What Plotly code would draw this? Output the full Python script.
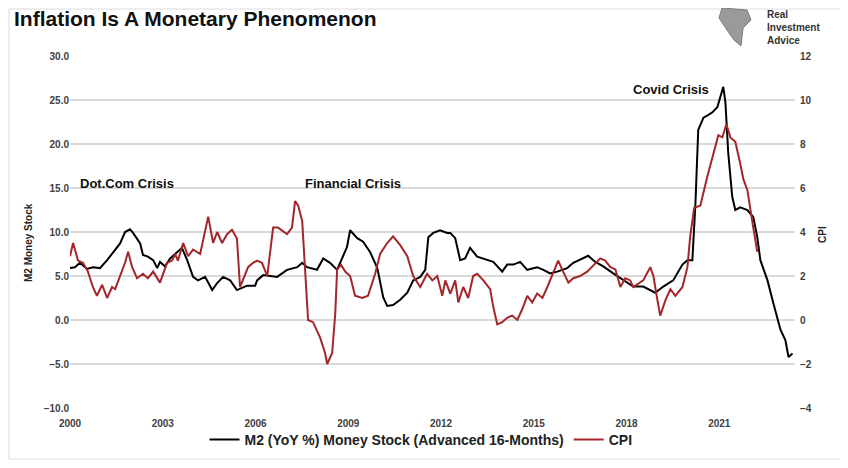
import plotly.graph_objects as go

# ---- data (decimal years) ----
m2_years = [2000.00, 2000.16, 2000.32, 2000.55, 2000.74, 2000.97, 2001.20, 2001.39, 2001.62, 2001.78,
            2001.94, 2002.04, 2002.27, 2002.36, 2002.52, 2002.69, 2002.82, 2002.91, 2003.07, 2003.24,
            2003.46, 2003.62, 2003.79, 2003.98, 2004.14, 2004.37, 2004.60, 2004.76, 2004.95, 2005.18,
            2005.40, 2005.73, 2005.99, 2006.05, 2006.25, 2006.70, 2007.02, 2007.35, 2007.51, 2007.67,
            2007.99, 2008.19, 2008.41, 2008.64, 2008.80, 2008.96, 2009.06, 2009.29, 2009.48, 2009.71,
            2009.94, 2010.13, 2010.26, 2010.45, 2010.68, 2010.91, 2011.10, 2011.33, 2011.49, 2011.59,
            2011.75, 2011.97, 2012.20, 2012.30, 2012.46, 2012.62, 2012.78, 2012.94, 2013.17, 2013.37,
            2013.69, 2013.98, 2014.14, 2014.34, 2014.56, 2014.79, 2015.11, 2015.31, 2015.53, 2015.76,
            2016.08, 2016.28, 2016.50, 2016.76, 2016.99, 2017.25, 2017.57, 2017.90, 2018.22, 2018.54,
            2018.93, 2019.19, 2019.51, 2019.81, 2019.97, 2020.13, 2020.23, 2020.32, 2020.49, 2020.65,
            2020.78, 2020.94, 2021.13, 2021.20, 2021.29, 2021.42, 2021.52, 2021.68, 2021.91, 2022.10,
            2022.23, 2022.33, 2022.56, 2022.75, 2022.98, 2023.14, 2023.24, 2023.37]
m2_values = [5.9, 6.0, 6.5, 5.8, 6.0, 5.9, 6.8, 7.6, 8.7, 10.0,
             10.3, 9.9, 8.7, 7.4, 7.2, 6.8, 5.9, 6.6, 6.1, 7.0,
             7.7, 8.2, 6.8, 4.9, 4.5, 4.9, 3.4, 4.2, 4.9, 4.5,
             3.4, 3.9, 3.9, 4.5, 5.1, 4.9, 5.7, 6.0, 6.5, 6.0,
             5.7, 7.0, 6.5, 5.7, 7.0, 8.3, 10.2, 9.3, 8.9, 7.7,
             5.9, 2.6, 1.6, 1.7, 2.3, 3.1, 4.5, 4.9, 5.7, 9.4,
             9.9, 10.2, 9.9, 9.9, 9.3, 6.8, 7.0, 8.2, 7.2, 7.0,
             6.6, 5.5, 6.3, 6.3, 6.6, 5.7, 6.0, 5.7, 5.3, 5.5,
             5.9, 6.5, 6.9, 7.3, 6.6, 6.1, 5.3, 4.5, 3.8, 3.8,
             3.1, 3.8, 4.5, 6.3, 6.8, 6.8, 13.3, 21.6, 23.0, 23.3,
             23.6, 24.2, 26.5, 24.7, 19.0, 14.0, 12.5, 12.8, 12.5, 11.7,
             9.4, 6.8, 4.5, 1.9, -1.1, -2.3, -4.2, -3.8]

cpi_years = [2000.00, 2000.10, 2000.26, 2000.42, 2000.58, 2000.74, 2000.87, 2001.04, 2001.20, 2001.36,
             2001.46, 2001.62, 2001.78, 2001.88, 2002.01, 2002.17, 2002.36, 2002.52, 2002.69, 2002.91,
             2003.14, 2003.30, 2003.40, 2003.49, 2003.66, 2003.82, 2003.98, 2004.21, 2004.47, 2004.63,
             2004.76, 2004.92, 2005.08, 2005.24, 2005.40, 2005.50, 2005.66, 2005.76, 2005.92, 2006.05,
             2006.21, 2006.38, 2006.57, 2006.73, 2007.02, 2007.18, 2007.28, 2007.38, 2007.51, 2007.61,
             2007.70, 2007.86, 2008.09, 2008.25, 2008.32, 2008.48, 2008.58, 2008.64, 2008.77, 2008.90,
             2009.06, 2009.22, 2009.45, 2009.64, 2009.87, 2010.03, 2010.26, 2010.45, 2010.68, 2010.91,
             2011.10, 2011.33, 2011.55, 2011.72, 2011.88, 2012.04, 2012.14, 2012.30, 2012.46, 2012.56,
             2012.72, 2012.88, 2013.04, 2013.17, 2013.37, 2013.59, 2013.69, 2013.82, 2013.98, 2014.14,
             2014.30, 2014.47, 2014.63, 2014.79, 2014.95, 2015.11, 2015.28, 2015.44, 2015.63, 2015.79,
             2015.95, 2016.12, 2016.28, 2016.50, 2016.73, 2016.93, 2017.15, 2017.31, 2017.48, 2017.64,
             2017.80, 2017.96, 2018.12, 2018.22, 2018.54, 2018.77, 2018.87, 2019.00, 2019.09, 2019.26,
             2019.42, 2019.58, 2019.81, 2019.97, 2020.06, 2020.19, 2020.39, 2020.61, 2020.81, 2020.97,
             2021.10, 2021.23, 2021.36, 2021.52, 2021.68, 2021.78, 2021.91, 2022.01, 2022.10, 2022.23]
cpi_values = [2.9, 3.5, 2.7, 2.6, 2.2, 1.5, 1.1, 1.6, 1.0, 1.5,
              1.4, 2.0, 2.6, 3.1, 2.4, 1.9, 2.1, 1.9, 2.2, 1.7,
              2.6, 2.7, 3.0, 2.7, 3.5, 2.9, 3.2, 3.0, 4.7, 3.5,
              4.0, 3.5, 3.9, 4.1, 3.7, 1.5, 2.1, 2.4, 2.6, 2.7,
              2.6, 2.0, 4.2, 4.2, 3.9, 4.2, 5.4, 5.2, 4.5, 2.3,
              0.0, -0.1, -0.8, -1.5, -2.0, -1.5, 0.3, 2.3, 2.5, 2.2,
              2.0, 1.1, 1.0, 1.1, 2.1, 3.0, 3.5, 3.8, 3.4, 2.9,
              2.0, 1.5, 2.1, 1.8, 2.0, 1.1, 1.8, 1.2, 1.8, 0.8,
              1.5, 1.0, 2.0, 2.1, 1.8, 1.4, 0.6, -0.2, -0.1, 0.1,
              0.2, 0.0, 0.5, 1.1, 0.8, 1.2, 1.0, 1.5, 2.2, 2.7,
              2.2, 1.7, 1.9, 2.0, 2.2, 2.5, 2.8, 2.7, 2.4, 2.3,
              1.5, 1.9, 1.8, 1.5, 1.8, 2.4, 2.0, 0.9, 0.2, 0.9,
              1.4, 1.1, 1.5, 2.4, 3.8, 5.1, 5.2, 6.5, 7.6, 8.4,
              8.3, 8.9, 8.3, 8.1, 7.1, 6.4, 5.9, 4.9, 4.2, 3.1]

x_tick_vals = [2000, 2003, 2006, 2009, 2012, 2015, 2018, 2021]
x_tick_text = ["2000", "2003", "2006", "2009", "2012", "2015", "2018", "2021"]
left_ticks = [-10, -5, 0, 5, 10, 15, 20, 25, 30]
right_ticks = [-4, -2, 0, 2, 4, 6, 8, 10, 12]

m2_name = "M2 (YoY %) Money Stock (Advanced 16-Months)"
cpi_name = "CPI"

SANS = "Liberation Sans, Arial, sans-serif"

fig = go.Figure()
fig.add_trace(go.Scatter(x=m2_years, y=m2_values, name=m2_name, mode="lines",
                         line=dict(color="#000000", width=2), yaxis="y"))
fig.add_trace(go.Scatter(x=cpi_years, y=cpi_values, name=cpi_name, mode="lines",
                         line=dict(color="#a3262a", width=2), yaxis="y2"))

# page has an 8px body margin: the figure starts at (8, 8) of the screenshot
OFF = 8
W, H = 848 - OFF, 468 - OFF
# plot area, in screenshot pixels
L, R, T, B = 70, 795, 56, 408
pw, ph = R - L, B - T

def px(xp):
    return (xp - L) / pw

def py(yp):
    return (B - yp) / ph

tickfont = dict(family=SANS, size=10, color="#404040", weight="bold")

fig.update_layout(
    width=W, height=H,
    margin=dict(l=L - OFF, r=W - (R - OFF), t=T - OFF, b=H - (B - OFF), autoexpand=False),
    paper_bgcolor="white", plot_bgcolor="rgba(0,0,0,0)",
    showlegend=True,
    legend=dict(orientation="h", x=px(421), xanchor="center", y=py(440), yanchor="middle",
                font=dict(family=SANS, size=14, color="#222222", weight="bold"),
                itemwidth=30, tracegroupgap=0, bgcolor="rgba(0,0,0,0)"),
    xaxis=dict(range=[2000, 2023.45], tickvals=x_tick_vals, ticktext=x_tick_text,
               showgrid=False, zeroline=False, showline=False, ticks="", automargin=False,
               ticklabelstandoff=8, tickfont=tickfont),
    yaxis=dict(range=[-10, 30], tickvals=left_ticks, tickformat=".1f",
               showgrid=True, gridcolor="#dadada", gridwidth=2, zeroline=False,
               showline=False, ticks="", automargin=False, tickfont=tickfont),
    yaxis2=dict(range=[-4, 12], tickvals=right_ticks, overlaying="y", side="right",
                showgrid=False, zeroline=False, showline=False, ticks="", automargin=False,
                ticklabelstandoff=4, tickfont=tickfont),
)

annotations = [
    dict(text="Inflation Is A Monetary Phenomenon", x=px(12), y=py(19), xanchor="left", yanchor="middle",
         font=dict(family=SANS, size=21, color="#111111", weight="bold")),
    dict(text="Dot.Com Crisis", x=px(78), y=py(183), xanchor="left", yanchor="middle",
         font=dict(family=SANS, size=13, color="#111111", weight="bold")),
    dict(text="Financial Crisis", x=px(303), y=py(183), xanchor="left", yanchor="middle",
         font=dict(family=SANS, size=13, color="#111111", weight="bold")),
    dict(text="Covid Crisis", x=px(631), y=py(90), xanchor="left", yanchor="middle",
         font=dict(family=SANS, size=13, color="#111111", weight="bold")),
    dict(text="Real<br>Investment<br>Advice", x=px(765), y=py(28), xanchor="left", yanchor="middle",
         align="left", font=dict(family=SANS, size=10, color="#333333", weight="bold")),
    dict(text="M2 Money Stock", x=px(28), y=py(243), xanchor="center", yanchor="middle", textangle=-90,
         font=dict(family=SANS, size=10, color="#222222", weight="bold")),
    dict(text="CPI", x=px(822), y=py(235), xanchor="center", yanchor="middle", textangle=-90,
         font=dict(family=SANS, size=10, color="#222222", weight="bold")),
]
for a in annotations:
    a.update(xref="paper", yref="paper", showarrow=False)
fig.update_layout(annotations=annotations)

# frame around the whole picture and a simple logo mark
def pt(xp, yp):
    return f"{px(xp):.4f},{py(yp):.4f}"

logo_path = ("M " + pt(722, 8) + " L " + pt(747, 10) + " L " + pt(751, 20) + " L " + pt(743, 28)
             + " L " + pt(741, 46) + " L " + pt(734, 40) + " L " + pt(727, 30) + " L " + pt(719, 18) + " Z")
shapes = [
    dict(type="rect", xref="paper", yref="paper", x0=px(9), x1=px(842), y0=py(459), y1=py(9),
         line=dict(color="#dcdcdc", width=1), fillcolor="rgba(0,0,0,0)", layer="below"),
    dict(type="path", xref="paper", yref="paper", path=logo_path,
         fillcolor="#9a9a9a", line=dict(color="#7a7a7a", width=1)),
]
fig.update_layout(shapes=shapes)

fig.write_html("out.html")
